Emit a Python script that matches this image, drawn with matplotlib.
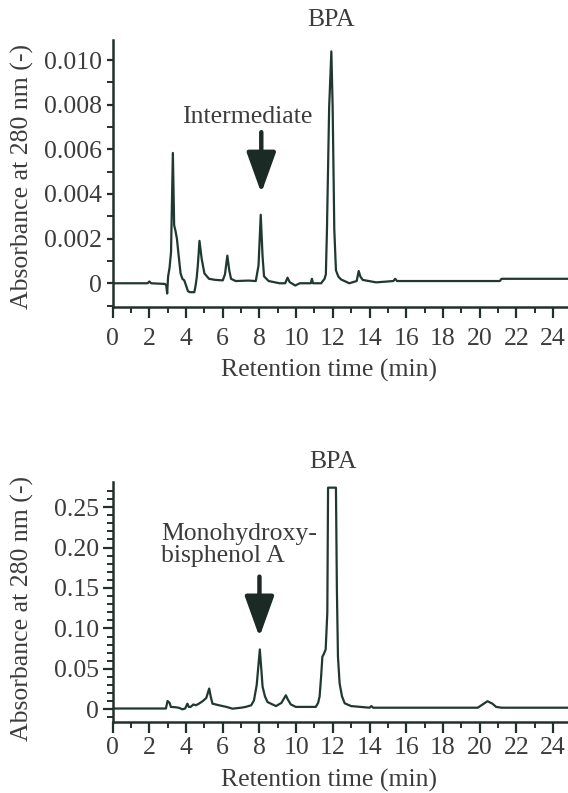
import numpy as np
import matplotlib
matplotlib.use("Agg")
import matplotlib.pyplot as plt
from matplotlib.ticker import FixedLocator
from matplotlib.patches import FancyArrowPatch

plt.rcParams['font.family'] = ['Liberation Serif', 'DejaVu Serif']

# ---------------- data ----------------
# Top chromatogram (Intermediate / BPA)
t_top = [0.0, 1.9, 2.0, 2.1, 2.85, 2.92, 2.97, 3.02, 3.1, 3.18, 3.28, 3.35, 3.42, 3.5,
         3.6, 3.7, 3.8, 3.9, 4.0, 4.1, 4.2, 4.45, 4.52, 4.58, 4.65, 4.73, 4.85, 5.0,
         5.25, 5.6, 6.0, 6.12, 6.25, 6.35, 6.45, 6.7, 7.4, 7.8, 7.95, 8.07, 8.17, 8.25,
         8.5, 9.1, 9.4, 9.53, 9.65, 9.95, 10.2, 10.8, 10.86, 10.92, 11.36, 11.55, 11.62,
         11.68, 11.8, 11.92, 11.99, 12.08, 12.17, 12.3, 12.45, 12.9, 13.3, 13.41, 13.5,
         13.63, 14.36, 15.3, 15.4, 15.5, 21.1, 21.2, 24.9]
a_top = [0.0, 0.0, 0.00008, 0.0, -0.00003, -0.0001, -0.00046, 0.0003, 0.0007, 0.0014,
         0.00584, 0.0026, 0.00236, 0.0020, 0.0012, 0.00044, 0.0002, 0.00013, -0.0001,
         -0.00035, -0.0004, -0.0004, -0.0001, 0.00025, 0.0009, 0.0019, 0.0011, 0.00044,
         0.0002, 0.00015, 0.00013, 0.0004, 0.00124, 0.0006, 0.0002, 0.0001, 0.00012,
         0.0001, 0.0008, 0.00307, 0.0012, 0.00031, 0.0001, 0.0, 0.0, 0.00025, 0.00005,
         -0.0001, 0.0, 0.0, 0.0002, 0.0, 0.0, 0.0002, 0.0004, 0.0024, 0.0079, 0.01039,
         0.0079, 0.0024, 0.00058, 0.0003, 0.00017, 0.0, 0.0001, 0.00055, 0.0003, 0.00015,
         0.00004, 0.0001, 0.0002, 0.0001, 0.0001, 0.0002, 0.0002]

# Bottom chromatogram (Monohydroxy-bisphenol A / BPA)
t_bot = [0.0, 2.9, 2.99, 3.1, 3.17, 3.44, 3.6, 3.8, 3.95, 4.07, 4.15, 4.25, 4.4, 4.53,
         4.7, 4.9, 5.1, 5.26, 5.35, 5.44, 5.8, 6.2, 6.53, 7.0, 7.25, 7.55, 7.7, 7.85,
         8.02, 8.1, 8.17, 8.3, 8.44, 8.9, 9.2, 9.44, 9.55, 9.71, 9.98, 11.07, 11.2,
         11.28, 11.36, 11.43, 11.5, 11.61, 11.70, 11.74, 12.17, 12.22, 12.28, 12.37,
         12.5, 12.65, 13.0, 14.0, 14.1, 14.2, 19.9, 20.1, 20.43, 20.7, 20.9, 21.2, 24.9]
a_bot = [0.001, 0.001, 0.0103, 0.008, 0.003, 0.0025, 0.002, 0.0, 0.001, 0.007, 0.003,
         0.003, 0.006, 0.005, 0.007, 0.010, 0.014, 0.0257, 0.015, 0.007, 0.005, 0.003,
         0.0008, 0.002, 0.003, 0.005, 0.011, 0.03, 0.074, 0.05, 0.028, 0.016, 0.009,
         0.004, 0.008, 0.0174, 0.012, 0.006, 0.003, 0.003, 0.008, 0.016, 0.04, 0.065,
         0.068, 0.074, 0.12, 0.274, 0.274, 0.15, 0.065, 0.032, 0.016, 0.0074, 0.004,
         0.002, 0.004, 0.002, 0.002, 0.005, 0.010, 0.007, 0.003, 0.002, 0.002]

x_ticks = list(range(0, 25, 2))
x_minor = list(range(1, 25, 2))
y_ticks_top = [0, 0.002, 0.004, 0.006, 0.008, 0.010]
y_labels_top = ["0", "0.002", "0.004", "0.006", "0.008", "0.010"]
y_ticks_bot = [0, 0.05, 0.10, 0.15, 0.20, 0.25]
y_labels_bot = ["0", "0.05", "0.10", "0.15", "0.20", "0.25"]

xlabel = "Retention time (min)"
ylabel = "Absorbance at 280 nm (-)"

# ---------------- style ----------------
LINE = '#1f3832'
AXC = '#22302b'
TXT = '#3c3c3c'
FS = 18.5

W, H = 568, 793
fig = plt.figure(figsize=(W / 100, H / 100), dpi=100)

def px_axes(left, top, right, bottom):
    return fig.add_axes([left / W, 1 - bottom / H, (right - left) / W, (bottom - top) / H])

ax1 = px_axes(112.7, 40, 568, 306.7)
ax2 = px_axes(112.7, 482, 568, 721.7)

def style(ax, ylim, yt, yl, yminor, majlen_y, minlen_y, xpad):
    ax.set_xlim(0, 24.82)
    ax.set_ylim(*ylim)
    for s in ['top', 'right']:
        ax.spines[s].set_visible(False)
    for s in ['left', 'bottom']:
        ax.spines[s].set_linewidth(1.8)
        ax.spines[s].set_color(AXC)
    ax.set_xticks(x_ticks)
    ax.set_xticklabels([str(v) for v in x_ticks])
    ax.xaxis.set_minor_locator(FixedLocator(x_minor))
    ax.set_yticks(yt)
    ax.set_yticklabels(yl)
    ax.yaxis.set_minor_locator(FixedLocator(yminor))
    ax.tick_params(axis='x', which='major', length=8, width=1.6, color=AXC,
                   labelsize=FS, labelcolor=TXT, pad=xpad)
    ax.tick_params(axis='x', which='minor', length=4.5, width=1.4, color=AXC)
    ax.tick_params(axis='y', which='major', length=majlen_y, width=1.6, color=AXC,
                   labelsize=FS, labelcolor=TXT, pad=3)
    ax.tick_params(axis='y', which='minor', length=minlen_y, width=1.4, color=AXC)
    ax.set_xlabel(xlabel, fontsize=FS, color=TXT)
    ax.set_ylabel(ylabel, fontsize=FS, color=TXT)
    ax.patch.set_alpha(0)

style(ax1, (-0.00105, 0.0109), y_ticks_top, y_labels_top,
      [v / 1000 for v in range(-1, 11, 2)], 4.5, 4, 7.5)
ax1.yaxis.set_label_coords(-0.172, 0.49)
ax1.xaxis.set_label_coords(0.474, -0.197)
style(ax2, (-0.0153, 0.281), y_ticks_bot, y_labels_bot,
      [v / 100 for v in range(-1, 28) if v % 5 != 0], 7, 4, 3)
ax2.yaxis.set_label_coords(-0.172, 0.474)
ax2.xaxis.set_label_coords(0.474, -0.195)

ax1.plot(t_top, a_top, color=LINE, lw=1.6, solid_joinstyle='round')
ax2.plot(t_bot, a_bot, color=LINE, lw=1.6, solid_joinstyle='round')

# annotations
ax1.text(11.9, 0.01179, "BPA", ha='center', va='center', fontsize=FS, color=TXT, clip_on=False)
ax1.text(7.33, 0.00745, "Intermediate", ha='center', va='center', fontsize=FS, color=TXT)
ax2.text(12.0, 0.3057, "BPA", ha='center', va='center', fontsize=FS, color=TXT, clip_on=False)
ax2.text(2.64, 0.203, "Monohydroxy-\nbisphenol A", ha='left', va='center', fontsize=FS,
         color=TXT, linespacing=1.0)

def arrow(ax, x, y0, y1):
    p = FancyArrowPatch((x, y0), (x, y1), arrowstyle='-|>,head_length=2.5,head_width=0.9',
                        mutation_scale=10, lw=3.2, color='#1c2a26', shrinkA=0, shrinkB=0)
    ax.add_patch(p)

arrow(ax1, 8.1, 0.00677, 0.00404)
arrow(ax2, 8.0, 0.164, 0.0894)

fig.savefig("out.png", dpi=100)
